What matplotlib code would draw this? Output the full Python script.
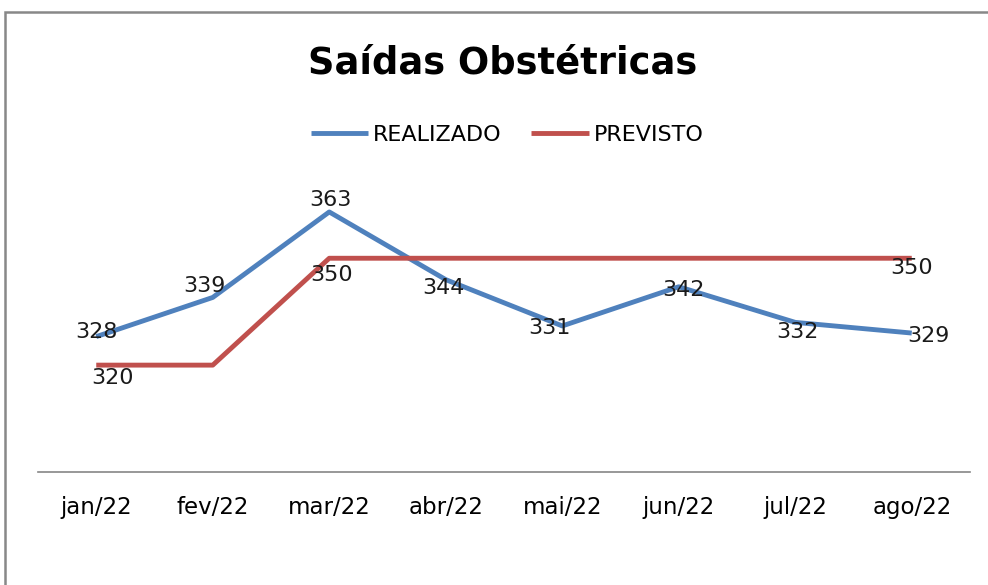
import matplotlib.pyplot as plt
from matplotlib.patches import Rectangle

# dados do gráfico
meses = ['jan/22', 'fev/22', 'mar/22', 'abr/22', 'mai/22', 'jun/22', 'jul/22', 'ago/22']
realizado = [328, 339, 363, 344, 331, 342, 332, 329]
previsto = [320, 320, 350, 350, 350, 350, 350, 350]

# posição dos rótulos (deslocamento em pixels)
off_real = [(0, 5), (-8, 11), (1, 12), (-2, -8), (-13, -2), (5, -3), (2, -10), (17, -3)]
off_prev = {0: (16, -13), 2: (2, -17), 7: (0, -10)}

plt.rcParams['font.family'] = ['DejaVu Sans']

azul = '#4F81BD'
vermelho = '#C0504D'

fig = plt.figure(figsize=(9.88, 5.85), dpi=100)
ax = fig.add_axes([38 / 988, 1 - 472 / 585, 932 / 988, 285 / 585])

x = list(range(len(meses)))
ax.plot(x, realizado, color=azul, lw=3.5, label='REALIZADO', solid_capstyle='butt')
ax.plot(x, previsto, color=vermelho, lw=3.5, label='PREVISTO', solid_capstyle='butt')

for i, v in enumerate(realizado):
    ax.annotate(str(v), (i, v), xytext=off_real[i], textcoords='offset pixels',
                ha='center', va='center', fontsize=16, color='#1a1a1a')
for i, (dx, dy) in off_prev.items():
    ax.annotate(str(previsto[i]), (i, previsto[i]), xytext=(dx, dy), textcoords='offset pixels',
                ha='center', va='center', fontsize=16, color='#1a1a1a')

ax.set_xlim(-0.5, 7.5)
ax.set_ylim(290, 370)
ax.set_yticks([])
ax.set_xticks(x)
ax.set_xticklabels(meses, fontsize=16.5)
ax.tick_params(axis='x', length=0, pad=17)
for s in ['top', 'right', 'left']:
    ax.spines[s].set_visible(False)
ax.spines['bottom'].set_color('#868686')
ax.spines['bottom'].set_linewidth(1.2)
ax.patch.set_alpha(0)

fig.text(503 / 988, 1 - 63 / 585, 'Saídas Obstétricas', ha='center', va='center',
         fontsize=26.5, fontweight='bold')

leg = fig.legend(loc='center', bbox_to_anchor=(507 / 988, 1 - 135 / 585), ncol=2,
                 frameon=False, fontsize=16, handlelength=2.6, handletextpad=0.2,
                 columnspacing=1.35)

# moldura do gráfico
fig.patches.append(Rectangle((5 / 988, -0.1), 1.2, 1.1 - 12 / 585, transform=fig.transFigure,
                             fill=False, edgecolor='#888888', lw=1.8))

plt.savefig('out.png', dpi=100)
